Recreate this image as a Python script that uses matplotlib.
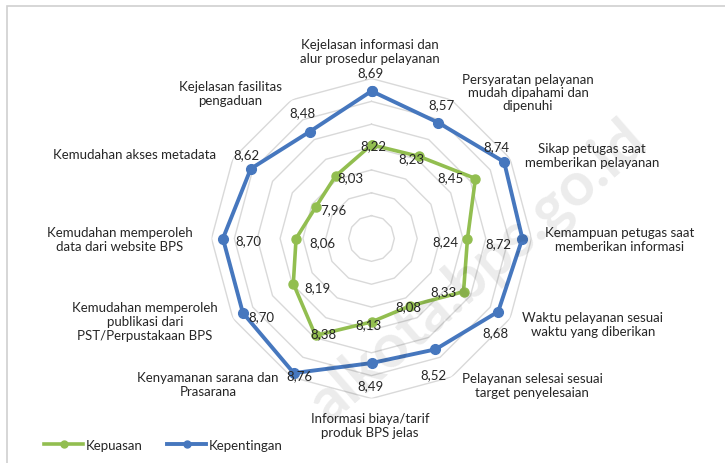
import numpy as np
import matplotlib
matplotlib.use("Agg")
import matplotlib.pyplot as plt
from matplotlib.patches import Rectangle

categories = [
    "Kejelasan informasi dan\nalur prosedur pelayanan",
    "Persyaratan pelayanan\nmudah dipahami dan\ndipenuhi",
    "Sikap petugas saat\nmemberikan pelayanan",
    "Kemampuan petugas saat\nmemberikan informasi",
    "Waktu pelayanan sesuai\nwaktu yang diberikan",
    "Pelayanan selesai sesuai\ntarget penyelesaian",
    "Informasi biaya/tarif\nproduk BPS jelas",
    "Kenyamanan sarana dan\nPrasarana",
    "Kemudahan memperoleh\npublikasi dari\nPST/Perpustakaan BPS",
    "Kemudahan memperoleh\ndata dari website BPS",
    "Kemudahan akses metadata",
    "Kejelasan fasilitas\npengaduan",
]
kepuasan = [8.22, 8.23, 8.45, 8.24, 8.33, 8.08, 8.13, 8.38, 8.19, 8.06, 7.96, 8.03]
kepentingan = [8.69, 8.57, 8.74, 8.72, 8.68, 8.52, 8.49, 8.76, 8.70, 8.70, 8.62, 8.48]
series_names = ["Kepuasan", "Kepentingan"]
r_min, r_max = 7.4, 8.8
grid_levels = [7.6, 7.8, 8.0, 8.2, 8.4, 8.6, 8.8]

BLUE = "#4677be"
GREEN = "#92be50"
TXT = "#262626"
FONT = ["Lato", "DejaVu Sans"]
plt.rcParams["font.family"] = FONT

W, H = 725, 464
fig = plt.figure(figsize=(W / 100, H / 100), dpi=100)

# frame
fig.patches.append(Rectangle((7 / W, -0.1), 1.2, 1 - 7 / H + 0.1, transform=fig.transFigure,
                             fill=False, edgecolor="#d0d0d0", linewidth=1.2))

# watermark
fig.text(478 / W, 1 - 272 / H, "alkota.bps.go.id", rotation=41, fontsize=44,
         fontweight="bold", color="#000000", alpha=0.08, ha="center", va="center", zorder=0)

cx, cy, R = 371.5, 239.5, 160
ax = fig.add_axes([(cx - R) / W, 1 - (cy + R) / H, 2 * R / W, 2 * R / H], projection="polar")
ax.set_theta_offset(np.pi / 2)
ax.set_theta_direction(-1)
ax.set_ylim(r_min, r_max)
ax.grid(False)
ax.set_xticks([])
ax.set_yticks([])
ax.spines["polar"].set_visible(False)
ax.patch.set_alpha(0)

n = len(categories)
theta = np.arange(n) * 2 * np.pi / n
tc = np.append(theta, theta[0])
for g in grid_levels:
    ax.plot(tc, [g] * (n + 1), color="#d9d9d9", lw=1.0, zorder=1)

ax.plot(tc, kepuasan + kepuasan[:1], color=GREEN, lw=2.6, marker="o", ms=6.5, zorder=3, clip_on=False)
ax.plot(tc, kepentingan + kepentingan[:1], color=BLUE, lw=2.8, marker="o", ms=7, zorder=3, clip_on=False)

# value label offsets (pixels)
off_blue = [(-1.5, 19), (3, 19), (-7.5, 16), (-24, -5), (-3, -21), (-2.5, -25),
            (-1.5, -22), (6, -2), (19, -3), (25, -2), (-4, 15), (-7, 19)]
off_green = [(1.5, 0), (-7, -2), (-25, 1.5), (-22, -2.5), (-20, 0), (-2, 0),
             (-3, -2), (7.5, 2.5), (24, -4), (26, -3.5), (17, -2.5), (14.5, -1)]
for i in range(n):
    ax.annotate(f"{kepentingan[i]:.2f}".replace(".", ","), (theta[i], kepentingan[i]),
                xytext=off_blue[i], textcoords="offset pixels", ha="center", va="center",
                fontsize=9.5, color=TXT, zorder=5, annotation_clip=False)
    ax.annotate(f"{kepuasan[i]:.2f}".replace(".", ","), (theta[i], kepuasan[i]),
                xytext=off_green[i], textcoords="offset pixels", ha="center", va="center",
                fontsize=9.5, color=TXT, zorder=5, annotation_clip=False)

# category labels (pixel positions of label centres)
cat_pos = [(370, 52), (528, 93), (592, 156), (620, 240), (593, 325), (532, 386),
           (370, 426), (208, 385), (145, 322), (120, 240), (135, 155), (230, 94)]
for lab, (x, y) in zip(categories, cat_pos):
    fig.text(x / W, 1 - y / H, lab, ha="center", va="center", fontsize=9.5,
             color=TXT, linespacing=1.15)

# legend
h1, = ax.plot([], [], color=GREEN, lw=2.6, marker="o", ms=5)
h2, = ax.plot([], [], color=BLUE, lw=2.8, marker="o", ms=5)
fig.legend([h1, h2], series_names, loc="center left", bbox_to_anchor=(32 / W, 1 - 446 / H),
           ncol=2, frameon=False, fontsize=9.5, handlelength=3.0, handletextpad=0.2,
           columnspacing=1.8, labelcolor=TXT)

fig.savefig("out.png", dpi=100)
